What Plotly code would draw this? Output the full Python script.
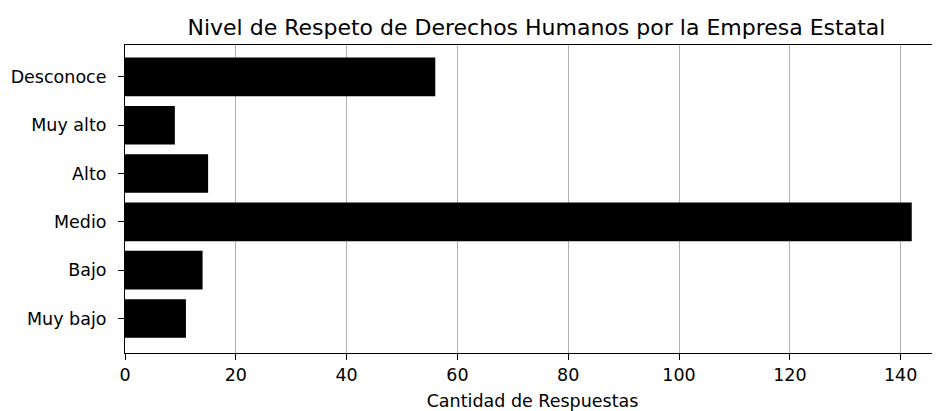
import plotly.graph_objects as go

niveles = ['Muy bajo', 'Bajo', 'Medio', 'Alto', 'Muy alto', 'Desconoce']
respuestas = [11, 14, 142, 15, 9, 56]
xticks = [0, 20, 40, 60, 80, 100, 120, 140]

fig = go.Figure()
fig.add_trace(go.Bar(
    x=respuestas,
    y=niveles,
    orientation='h',
    width=0.8,
    marker_color='black',
    marker_line_width=0,
))

# page body has an 8px margin, figure sized to fit the window;
# the right spine of the original is cut off by the image edge
fig.update_layout(
    width=932,
    height=403,
    margin=dict(l=117, r=0, t=37, b=58),
    paper_bgcolor='white',
    plot_bgcolor='white',
    font=dict(family='DejaVu Sans', size=17.5, color='black'),
    title=dict(text='Nivel de Respeto de Derechos Humanos por la Empresa Estatal',
               x=0.567, xref='container', xanchor='center', y=0.952, yanchor='middle',
               font=dict(size=22, color='black')),
    showlegend=False,
)
fig.update_xaxes(
    range=[0, 147.1],
    tickvals=xticks,
    ticks='outside', ticklen=6, tickcolor='black',
    showgrid=True, gridcolor='#b0b0b0', gridwidth=1,
    showline=True, linecolor='black', linewidth=1, mirror=True,
    zeroline=False, automargin=False,
    title=dict(text='Cantidad de Respuestas', standoff=10, font=dict(size=17.5)),
)
fig.update_yaxes(
    categoryorder='array', categoryarray=niveles,
    range=[-0.715, 5.66],
    ticks='outside', ticklen=6, tickcolor='black', ticklabelstandoff=8,
    showgrid=False,
    showline=True, linecolor='black', linewidth=1, mirror=False,
    zeroline=False, automargin=False,
)

fig.write_html("out.html")
